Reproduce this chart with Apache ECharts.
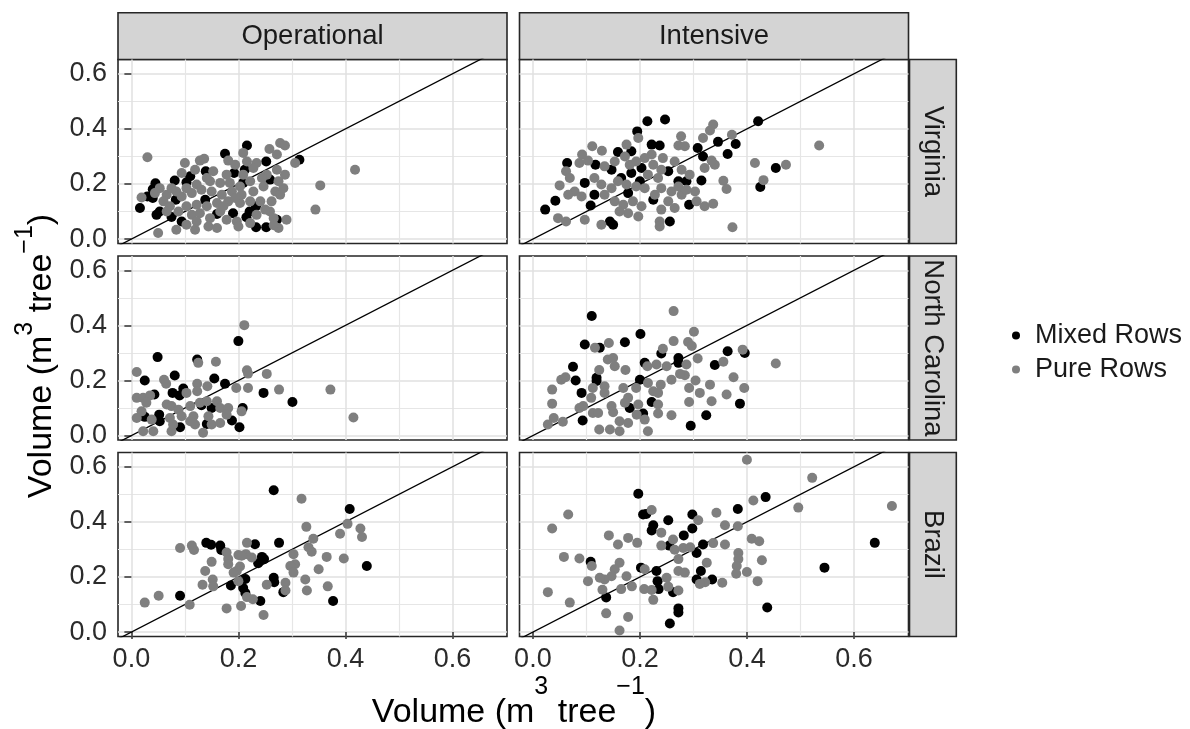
<!DOCTYPE html>
<html><head><meta charset="utf-8">
<script src="https://cdn.jsdelivr.net/npm/echarts@6/dist/echarts.min.js"></script>
<style>html,body{margin:0;padding:0;background:#fff}#c{width:1190px;height:729px}</style>
</head><body><div id="c"></div>
<script>
// ---------- categories / labels ----------
const sites = ['Virginia', 'North Carolina', 'Brazil'];
const systems = ['Operational', 'Intensive'];
const groups = ['Mixed Rows', 'Pure Rows'];
const majorTicks = [0, 0.2, 0.4, 0.6];
const minorTicks = [0.1, 0.3, 0.5];
const oneToOne = [-0.1, 0.8];   // 1:1 reference line (y = x)

// ---------- data: [volume x, volume y] ----------
const virginiaOperationalMixed = [[0.216,0.340],[0.175,0.310],[0.252,0.282],[0.314,0.288],[0.139,0.246],[0.192,0.240],[0.212,0.252],[0.110,0.228],[0.081,0.213],[0.103,0.206],[0.045,0.203],[0.040,0.181],[0.040,0.149],[0.030,0.155],[0.016,0.113],[0.053,0.100],[0.047,0.088],[0.075,0.080],[0.094,0.064],[0.160,0.091],[0.190,0.094],[0.215,0.079],[0.233,0.119],[0.221,0.100],[0.233,0.043],[0.252,0.043],[0.272,0.070],[0.209,0.204],[0.138,0.143],[0.083,0.143],[0.259,0.216]];
const virginiaOperationalPure = [[0.030,0.297],[0.418,0.252],[0.353,0.195],[0.344,0.107],[0.278,0.349],[0.287,0.340],[0.258,0.327],[0.272,0.307],[0.209,0.313],[0.181,0.285],[0.128,0.285],[0.136,0.292],[0.100,0.276],[0.094,0.240],[0.119,0.252],[0.234,0.276],[0.228,0.258],[0.272,0.252],[0.287,0.234],[0.306,0.276],[0.253,0.234],[0.244,0.222],[0.222,0.210],[0.203,0.191],[0.184,0.204],[0.166,0.204],[0.147,0.210],[0.122,0.198],[0.103,0.185],[0.084,0.173],[0.066,0.161],[0.019,0.151],[0.060,0.137],[0.072,0.119],[0.094,0.155],[0.113,0.167],[0.131,0.179],[0.150,0.173],[0.169,0.161],[0.188,0.173],[0.206,0.161],[0.228,0.173],[0.247,0.191],[0.269,0.173],[0.278,0.161],[0.262,0.137],[0.259,0.100],[0.250,0.107],[0.241,0.137],[0.222,0.137],[0.203,0.131],[0.181,0.137],[0.160,0.131],[0.141,0.119],[0.122,0.125],[0.103,0.119],[0.113,0.088],[0.128,0.094],[0.147,0.076],[0.166,0.100],[0.178,0.070],[0.197,0.064],[0.200,0.046],[0.222,0.058],[0.266,0.076],[0.290,0.070],[0.275,0.040],[0.266,0.050],[0.050,0.022],[0.084,0.034],[0.119,0.034],[0.144,0.046],[0.160,0.040],[0.103,0.052],[0.122,0.064],[0.178,0.234],[0.153,0.246],[0.141,0.222],[0.075,0.185],[0.044,0.167],[0.053,0.185],[0.209,0.234],[0.194,0.270],[0.216,0.282],[0.284,0.185],[0.275,0.210],[0.172,0.119],[0.194,0.149],[0.234,0.088],[0.088,0.100],[0.066,0.100]];
const virginiaIntensiveMixed = [[0.214,0.428],[0.247,0.434],[0.195,0.391],[0.421,0.428],[0.346,0.353],[0.379,0.345],[0.364,0.309],[0.308,0.331],[0.318,0.300],[0.222,0.343],[0.237,0.340],[0.159,0.316],[0.184,0.319],[0.064,0.276],[0.117,0.270],[0.097,0.204],[0.042,0.139],[0.023,0.107],[0.454,0.258],[0.425,0.189],[0.292,0.125],[0.256,0.064],[0.150,0.052],[0.144,0.064],[0.315,0.213],[0.287,0.210],[0.272,0.210],[0.253,0.246],[0.203,0.258],[0.147,0.252],[0.184,0.240],[0.200,0.210],[0.115,0.161],[0.108,0.122],[0.225,0.143],[0.178,0.167],[0.165,0.222]];
const virginiaIntensivePure = [[0.535,0.340],[0.473,0.270],[0.415,0.276],[0.431,0.214],[0.373,0.043],[0.337,0.416],[0.331,0.394],[0.318,0.367],[0.372,0.379],[0.277,0.373],[0.272,0.340],[0.284,0.337],[0.197,0.367],[0.175,0.343],[0.111,0.337],[0.129,0.321],[0.092,0.307],[0.103,0.285],[0.087,0.276],[0.062,0.246],[0.069,0.222],[0.050,0.195],[0.078,0.173],[0.066,0.161],[0.091,0.155],[0.047,0.076],[0.062,0.064],[0.097,0.070],[0.128,0.052],[0.115,0.222],[0.128,0.198],[0.147,0.185],[0.159,0.210],[0.134,0.161],[0.153,0.137],[0.169,0.125],[0.178,0.094],[0.197,0.082],[0.203,0.119],[0.187,0.137],[0.162,0.100],[0.237,0.064],[0.237,0.046],[0.240,0.107],[0.253,0.137],[0.265,0.113],[0.228,0.161],[0.240,0.185],[0.259,0.173],[0.278,0.161],[0.303,0.173],[0.306,0.137],[0.321,0.119],[0.337,0.128],[0.356,0.212],[0.362,0.182],[0.340,0.270],[0.334,0.285],[0.321,0.258],[0.293,0.234],[0.278,0.252],[0.265,0.282],[0.243,0.294],[0.222,0.307],[0.209,0.294],[0.225,0.270],[0.240,0.252],[0.234,0.222],[0.215,0.234],[0.181,0.270],[0.193,0.282],[0.172,0.300],[0.153,0.282],[0.134,0.264],[0.175,0.198],[0.193,0.191],[0.209,0.185],[0.272,0.191],[0.287,0.179]];
const northCarolinaOperationalMixed = [[0.049,0.285],[0.200,0.343],[0.123,0.276],[0.081,0.218],[0.025,0.200],[0.155,0.207],[0.175,0.188],[0.077,0.155],[0.097,0.171],[0.090,0.146],[0.043,0.149],[0.247,0.155],[0.301,0.122],[0.208,0.100],[0.052,0.076],[0.053,0.052],[0.025,0.068],[0.091,0.030],[0.188,0.055],[0.202,0.030],[0.141,0.042],[0.131,0.110],[0.150,0.100]];
const northCarolinaOperationalPure = [[0.211,0.401],[0.010,0.231],[0.061,0.203],[0.065,0.188],[0.125,0.264],[0.158,0.268],[0.216,0.237],[0.218,0.225],[0.253,0.224],[0.196,0.173],[0.218,0.173],[0.276,0.167],[0.372,0.167],[0.415,0.066],[0.123,0.188],[0.142,0.179],[0.103,0.155],[0.123,0.161],[0.010,0.137],[0.022,0.137],[0.035,0.146],[0.028,0.119],[0.066,0.113],[0.075,0.107],[0.088,0.094],[0.110,0.107],[0.128,0.119],[0.141,0.125],[0.160,0.125],[0.166,0.100],[0.181,0.100],[0.178,0.076],[0.206,0.088],[0.010,0.064],[0.019,0.088],[0.038,0.058],[0.022,0.016],[0.041,0.016],[0.075,0.016],[0.078,0.040],[0.072,0.064],[0.116,0.070],[0.119,0.040],[0.134,0.010],[0.144,0.070],[0.150,0.040],[0.166,0.046],[0.110,0.052],[0.094,0.070]];
const northCarolinaIntensiveMixed = [[0.110,0.434],[0.201,0.369],[0.172,0.339],[0.097,0.331],[0.125,0.319],[0.075,0.250],[0.080,0.200],[0.119,0.210],[0.119,0.198],[0.091,0.155],[0.093,0.055],[0.240,0.298],[0.272,0.282],[0.272,0.264],[0.200,0.203],[0.209,0.264],[0.222,0.122],[0.181,0.100],[0.206,0.080],[0.295,0.036],[0.324,0.074],[0.340,0.256],[0.364,0.306],[0.396,0.300],[0.387,0.116]];
const northCarolinaIntensivePure = [[0.263,0.452],[0.301,0.377],[0.263,0.343],[0.290,0.340],[0.297,0.325],[0.243,0.315],[0.142,0.336],[0.116,0.319],[0.140,0.276],[0.150,0.282],[0.153,0.252],[0.124,0.238],[0.173,0.238],[0.214,0.252],[0.231,0.258],[0.250,0.252],[0.287,0.258],[0.308,0.280],[0.356,0.268],[0.392,0.312],[0.454,0.262],[0.375,0.212],[0.395,0.173],[0.362,0.149],[0.334,0.125],[0.331,0.185],[0.312,0.155],[0.292,0.173],[0.304,0.200],[0.292,0.122],[0.284,0.219],[0.275,0.224],[0.259,0.203],[0.239,0.185],[0.234,0.155],[0.225,0.161],[0.215,0.191],[0.234,0.113],[0.234,0.080],[0.259,0.074],[0.215,0.016],[0.162,0.016],[0.144,0.022],[0.124,0.022],[0.162,0.052],[0.178,0.046],[0.194,0.076],[0.209,0.058],[0.150,0.085],[0.112,0.082],[0.122,0.082],[0.094,0.107],[0.087,0.100],[0.109,0.137],[0.112,0.173],[0.134,0.179],[0.134,0.155],[0.169,0.173],[0.178,0.137],[0.193,0.173],[0.197,0.113],[0.172,0.119],[0.036,0.167],[0.036,0.116],[0.053,0.203],[0.061,0.212],[0.039,0.064],[0.028,0.040],[0.056,0.050],[0.147,0.107]];
const brazilOperationalMixed = [[0.266,0.515],[0.408,0.447],[0.276,0.324],[0.140,0.324],[0.149,0.317],[0.166,0.314],[0.168,0.298],[0.231,0.319],[0.244,0.273],[0.248,0.265],[0.237,0.250],[0.440,0.240],[0.091,0.132],[0.186,0.169],[0.213,0.193],[0.209,0.160],[0.213,0.142],[0.266,0.197],[0.267,0.181],[0.284,0.145],[0.241,0.113],[0.377,0.113]];
const brazilOperationalPure = [[0.318,0.484],[0.327,0.382],[0.404,0.393],[0.428,0.376],[0.431,0.345],[0.390,0.357],[0.397,0.267],[0.365,0.273],[0.340,0.339],[0.331,0.308],[0.337,0.292],[0.303,0.283],[0.306,0.246],[0.297,0.240],[0.303,0.216],[0.350,0.228],[0.325,0.191],[0.328,0.151],[0.367,0.166],[0.288,0.179],[0.288,0.151],[0.253,0.172],[0.091,0.305],[0.113,0.314],[0.117,0.298],[0.216,0.324],[0.214,0.283],[0.200,0.280],[0.206,0.277],[0.225,0.271],[0.178,0.289],[0.181,0.265],[0.181,0.246],[0.150,0.255],[0.203,0.238],[0.197,0.222],[0.191,0.216],[0.138,0.222],[0.152,0.191],[0.133,0.172],[0.153,0.166],[0.200,0.185],[0.216,0.127],[0.227,0.119],[0.178,0.086],[0.205,0.095],[0.247,0.062],[0.109,0.099],[0.051,0.132],[0.025,0.107]];
const brazilIntensiveMixed = [[0.197,0.502],[0.435,0.490],[0.383,0.447],[0.206,0.427],[0.212,0.429],[0.253,0.406],[0.298,0.427],[0.298,0.376],[0.225,0.388],[0.222,0.369],[0.282,0.351],[0.318,0.318],[0.255,0.314],[0.306,0.287],[0.108,0.255],[0.202,0.234],[0.231,0.222],[0.314,0.222],[0.306,0.191],[0.335,0.191],[0.233,0.185],[0.235,0.156],[0.262,0.145],[0.272,0.086],[0.272,0.071],[0.256,0.031],[0.137,0.126],[0.438,0.089],[0.545,0.234],[0.639,0.324]];
const brazilIntensivePure = [[0.400,0.626],[0.522,0.560],[0.671,0.458],[0.496,0.452],[0.412,0.478],[0.343,0.433],[0.359,0.388],[0.383,0.384],[0.409,0.339],[0.423,0.330],[0.359,0.318],[0.337,0.323],[0.384,0.287],[0.384,0.265],[0.381,0.240],[0.380,0.212],[0.400,0.218],[0.428,0.261],[0.420,0.185],[0.354,0.179],[0.325,0.252],[0.322,0.181],[0.309,0.406],[0.066,0.427],[0.036,0.376],[0.058,0.273],[0.087,0.267],[0.110,0.240],[0.142,0.351],[0.159,0.318],[0.178,0.342],[0.195,0.324],[0.162,0.252],[0.153,0.228],[0.147,0.203],[0.134,0.191],[0.125,0.197],[0.103,0.185],[0.130,0.154],[0.165,0.156],[0.175,0.203],[0.185,0.166],[0.208,0.156],[0.222,0.153],[0.225,0.117],[0.209,0.228],[0.222,0.443],[0.240,0.361],[0.240,0.314],[0.262,0.336],[0.265,0.299],[0.281,0.305],[0.294,0.308],[0.272,0.265],[0.272,0.222],[0.284,0.216],[0.250,0.197],[0.253,0.165],[0.272,0.151],[0.312,0.175],[0.028,0.145],[0.069,0.107],[0.137,0.068],[0.178,0.055],[0.162,0.006]];

const panelData = [
  [[virginiaOperationalMixed, virginiaOperationalPure], [virginiaIntensiveMixed, virginiaIntensivePure]],
  [[northCarolinaOperationalMixed, northCarolinaOperationalPure], [northCarolinaIntensiveMixed, northCarolinaIntensivePure]],
  [[brazilOperationalMixed, brazilOperationalPure], [brazilIntensiveMixed, brazilIntensivePure]]
];

// ---------- layout & style ----------
const FONT = '"Liberation Sans", Arial, sans-serif';
const X_MIN = -0.025, X_MAX = 0.702, Y_MIN = -0.016, Y_MAX = 0.652;
const colLeft = [118, 519.5], colWidth = 389;
const rowTop = [59.5, 256, 452.5], rowHeight = 184;
const stripTop = 12.7, stripSize = 46.8, rightStripLeft = 909.5;
const groupColors = ['#000000', '#7f7f7f'];
const borderColor = '#262626';

const grids = [], xAxes = [], yAxes = [], series = [], graphics = [];
let gi = 0;
for (let r = 0; r < 3; r++) {
  for (let c = 0; c < 2; c++) {
    grids.push({left: colLeft[c], top: rowTop[r], width: colWidth, height: rowHeight,
      show: true, borderColor: borderColor, borderWidth: 1.6, backgroundColor: 'transparent',
      containLabel: false, outerBoundsMode: 'none'});
    const bottomRow = r === 2, leftCol = c === 0;
    xAxes.push({gridIndex: gi, type: 'value', min: X_MIN, max: X_MAX, position: 'bottom',
      axisLine: {show: false},
      axisTick: {show: bottomRow, customValues: majorTicks, length: 7, lineStyle: {color: '#333', width: 1.5}},
      axisLabel: {show: bottomRow, customValues: majorTicks, formatter: v => v.toFixed(1), fontSize: 27, color: '#2b2b2b', margin: 10, fontFamily: FONT},
      splitLine: {show: true, lineStyle: {color: '#e1e1e1', width: 1.5}}});
    xAxes.push({gridIndex: gi, type: 'value', min: X_MIN, max: X_MAX, position: 'bottom',
      axisLine: {show: false}, axisTick: {show: false, customValues: minorTicks},
      axisLabel: {show: false, customValues: minorTicks},
      splitLine: {show: true, lineStyle: {color: '#e6e6e6', width: 1.2}}});
    yAxes.push({gridIndex: gi, type: 'value', min: Y_MIN, max: Y_MAX, position: 'left',
      axisLine: {show: false},
      axisTick: {show: leftCol, customValues: majorTicks, length: 7, lineStyle: {color: '#333', width: 1.5}},
      axisLabel: {show: leftCol, customValues: majorTicks, formatter: v => v.toFixed(1), fontSize: 27, color: '#2b2b2b', margin: 11, fontFamily: FONT},
      splitLine: {show: true, lineStyle: {color: '#e1e1e1', width: 1.5}}});
    yAxes.push({gridIndex: gi, type: 'value', min: Y_MIN, max: Y_MAX, position: 'left',
      axisLine: {show: false}, axisTick: {show: false, customValues: minorTicks},
      axisLabel: {show: false, customValues: minorTicks},
      splitLine: {show: true, lineStyle: {color: '#e6e6e6', width: 1.2}}});

    series.push({type: 'line', xAxisIndex: 2 * gi, yAxisIndex: 2 * gi, silent: true, clip: true,
      symbol: 'none', data: oneToOne.map(v => [v, v]), lineStyle: {color: '#000', width: 1.3}, z: 3});
    for (let g = 0; g < 2; g++) {
      series.push({type: 'scatter', name: groups[g], xAxisIndex: 2 * gi, yAxisIndex: 2 * gi,
        data: panelData[r][c][g], symbol: 'circle', symbolSize: 10, clip: true,
        itemStyle: {color: groupColors[g], opacity: 1}, z: 4 + g});
    }
    gi++;
  }
}

// strips (facet labels)
for (let c = 0; c < 2; c++) {
  graphics.push({type: 'rect', shape: {x: colLeft[c], y: stripTop, width: colWidth, height: stripSize},
    style: {fill: '#d4d4d4', stroke: borderColor, lineWidth: 1.6}, silent: true});
  graphics.push({type: 'text', x: colLeft[c] + colWidth / 2, y: stripTop + stripSize / 2,
    style: {text: systems[c], fontSize: 27.5, fontFamily: FONT, fill: '#1a1a1a', align: 'center', verticalAlign: 'middle'}, silent: true});
}
for (let r = 0; r < 3; r++) {
  graphics.push({type: 'rect', shape: {x: rightStripLeft, y: rowTop[r], width: stripSize, height: rowHeight},
    style: {fill: '#d4d4d4', stroke: borderColor, lineWidth: 1.6}, silent: true});
  graphics.push({type: 'text', x: rightStripLeft + stripSize / 2, y: rowTop[r] + rowHeight / 2, rotation: -Math.PI / 2,
    style: {text: sites[r], fontSize: 27.5, fontFamily: FONT, fill: '#1a1a1a', align: 'center', verticalAlign: 'middle'}, silent: true});
}

// axis titles with superscripts
const titleText = '{a|Volume (m}{s|3}{a| tree}{s|\u22121}{a|)}';
function titleRich(raise) {
  return {
    a: {fontSize: 34, fontFamily: FONT, fill: '#000', verticalAlign: 'bottom'},
    s: {fontSize: 25, fontFamily: FONT, fill: '#000', verticalAlign: 'bottom', padding: [0, 0, raise, 0]}
  };
}
graphics.push({type: 'text', x: 514, y: 702, silent: true,
  style: {text: titleText, rich: titleRich(30), align: 'center', verticalAlign: 'middle'}});
graphics.push({type: 'text', x: 36, y: 356, rotation: Math.PI / 2, silent: true,
  style: {text: titleText, rich: titleRich(21), align: 'center', verticalAlign: 'middle'}});

const chart = echarts.init(document.getElementById('c'), null, {renderer: 'canvas'});
chart.setOption({
  animation: false,
  backgroundColor: '#fff',
  textStyle: {fontFamily: FONT},
  grid: grids, xAxis: xAxes, yAxis: yAxes, series: series,
  legend: {data: groups, orient: 'vertical', left: 1007, top: 317, icon: 'circle',
    itemWidth: 28, itemHeight: 8, itemGap: 7, selectedMode: false,
    textStyle: {fontSize: 27, fontFamily: FONT, color: '#1a1a1a', lineHeight: 27}},
  graphic: graphics
});
</script></body></html>
